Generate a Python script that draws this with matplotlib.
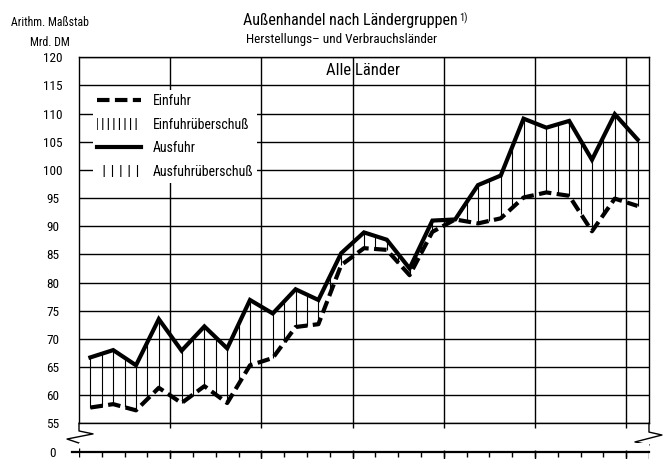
import numpy as np
import matplotlib
matplotlib.use("Agg")
import matplotlib.pyplot as plt
from matplotlib.lines import Line2D
from matplotlib.patches import Patch

plt.rcParams['font.family'] = ['Roboto Condensed', 'Archivo Narrow', 'DejaVu Sans']
plt.rcParams['hatch.linewidth'] = 0.8

# Quarterly values, Mrd. DM
quarters = np.arange(25)
ausfuhr = [66.7, 68.0, 65.3, 73.5, 67.9, 72.2, 68.3, 76.9, 74.5, 78.8, 76.9, 85.2, 88.9,
           87.6, 82.5, 91.0, 91.2, 97.3, 99.0, 109.1, 107.5, 108.7, 101.8, 109.9, 105.4]
einfuhr = [57.8, 58.4, 57.3, 61.3, 58.6, 61.6, 58.6, 65.3, 66.6, 72.1, 72.6, 83.1, 86.1,
           85.8, 81.3, 89.0, 91.2, 90.5, 91.4, 95.1, 96.0, 95.4, 89.1, 94.9, 93.6]
y_ticks = list(range(55, 121, 5))
year_lines = [4, 8, 12, 16, 20, 24]

fig = plt.figure(figsize=(6.65, 4.59), dpi=100)
ax = fig.add_axes([0.1188, 0.0778, 0.8571, 0.7974])
ax0 = fig.add_axes([0.1188, 0.0, 0.8571, 16 / 459])

ax.set_xlim(0, 25)
ax.set_ylim(55, 120)
ax.set_yticks(y_ticks)
ax.set_xticks(year_lines)
ax.set_xticklabels([])
ax.grid(True, color='black', lw=1.0)
ax.tick_params(axis='both', length=0)
ax.tick_params(axis='y', pad=19, labelsize=9.5)
for lab in ax.get_yticklabels():
    lab.set_ha('center')
for sp in ax.spines.values():
    sp.set_linewidth(1.0)

# hatch lines between the two curves (every half quarter)
t = np.arange(0, 24.01, 0.5)
lo = np.interp(t, quarters, einfuhr)
hi = np.interp(t, quarters, ausfuhr)
ax.vlines(t + 0.5, lo, hi, color='black', lw=0.8, zorder=3)

x = quarters + 0.5
ax.plot(x, einfuhr, color='black', lw=3, linestyle=(0, (3, 1.3)), zorder=4)
ax.plot(x, ausfuhr, color='black', lw=3, zorder=5, solid_joinstyle='miter')

# grid lines poke a little below the 55 line
ax.vlines(year_lines, 54.1, 55, color='black', lw=1.0, clip_on=False)
# axis break marks
ax.plot([0, 0, 0.0246, -0.021, 0], [0, -0.021, -0.029, -0.043, -0.054],
        transform=ax.transAxes, color='black', lw=1.0, clip_on=False)
ax.plot([1, 1, 1.0228, 0.9754, 1], [0, -0.024, -0.032, -0.051, -0.059],
        transform=ax.transAxes, color='black', lw=1.0, clip_on=False)

ax.text(12.45, 117.6, 'Alle Länder', ha='center', va='center', fontsize=12)

handles = [
    Line2D([], [], color='black', lw=3, linestyle=(0, (3, 1.3))),
    Patch(facecolor='white', edgecolor='black', hatch='|||', lw=0),
    Line2D([], [], color='black', lw=3),
    Patch(facecolor='white', edgecolor='black', hatch='||', lw=0),
]
labels = ['Einfuhr', 'Einfuhrüberschuß', 'Ausfuhr', 'Ausfuhrüberschuß']
leg = ax.legend(handles, labels, loc='upper left', bbox_to_anchor=(0.024, 0.91),
                borderaxespad=0, borderpad=0.3, fontsize=10, handlelength=3.2,
                handleheight=1.0, handletextpad=0.8, labelspacing=0.68,
                frameon=True, fancybox=False, facecolor='white', edgecolor='none',
                framealpha=1)
leg.set_zorder(10)

# bottom strip with the zero line
ax0.set_xlim(0, 25)
ax0.set_ylim(-0.4375, 0.5625)
for sp in ax0.spines.values():
    sp.set_visible(False)
ax0.set_xticks([])
ax0.set_yticks([0])
ax0.set_yticklabels(['0'])
ax0.tick_params(axis='y', length=0, pad=19, labelsize=9.5)
for lab in ax0.get_yticklabels():
    lab.set_ha('center')
ax0.plot([-0.31, 25], [0, 0], color='black', lw=1.6, clip_on=False)
ax0.vlines(np.arange(1, 25), -0.3, 0, color='black', lw=1.0)
ax0.vlines([0], -0.3, 0.25, color='black', lw=1.0)
ax0.vlines(year_lines + [25], -0.4375, 0.125, color='black', lw=1.0)

title = fig.text(243 / 665, 1 - 20 / 459, 'Außenhandel nach Ländergruppen', fontsize=11.5,
                 ha='left', va='center')
ax.annotate('1)', xy=(1, 1), xycoords=title, xytext=(1, 0), textcoords='offset points',
            fontsize=7.5, ha='left', va='top', annotation_clip=False)
fig.text(246 / 665, 1 - 40 / 459, 'Herstellungs– und Verbrauchsländer', fontsize=9.5,
         ha='left', va='center')
fig.text(50 / 665, 1 - 22 / 459, 'Arithm. Maßstab', fontsize=8.5, ha='center', va='center')
fig.text(50 / 665, 1 - 42 / 459, 'Mrd. DM', fontsize=8.5, ha='center', va='center')

fig.savefig('out.png', dpi=100)
